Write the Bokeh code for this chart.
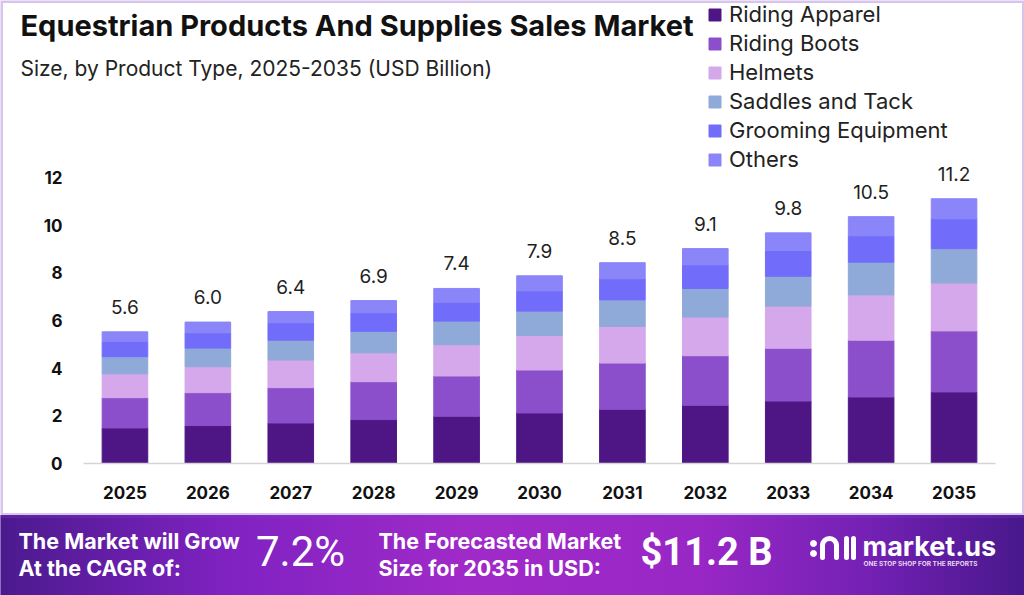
from bokeh.plotting import figure
from bokeh.models import (ColumnDataSource, Range1d, FixedTicker, Label, Legend, BoxAnnotation,
                          LinearAxis)
from bokeh.embed import file_html
from bokeh.resources import INLINE
from bokeh.core.properties import value
import math

# ---------------- data ----------------
years = ["2025", "2026", "2027", "2028", "2029", "2030", "2031", "2032", "2033", "2034", "2035"]
riding_apparel = [1.49, 1.59, 1.70, 1.84, 1.98, 2.12, 2.27, 2.44, 2.62, 2.79, 3.00]
riding_boots = [1.27, 1.38, 1.48, 1.59, 1.69, 1.80, 1.94, 2.08, 2.21, 2.38, 2.56]
helmets = [1.00, 1.09, 1.16, 1.21, 1.31, 1.45, 1.54, 1.62, 1.77, 1.90, 2.01]
saddles_and_tack = [0.72, 0.78, 0.83, 0.90, 0.99, 1.02, 1.11, 1.20, 1.25, 1.37, 1.44]
grooming_equipment = [0.64, 0.64, 0.73, 0.78, 0.79, 0.85, 0.89, 0.99, 1.08, 1.11, 1.25]
others = [0.40, 0.45, 0.47, 0.51, 0.58, 0.63, 0.67, 0.68, 0.74, 0.80, 0.84]
total_labels = ["5.6", "6.0", "6.4", "6.9", "7.4", "7.9", "8.5", "9.1", "9.8", "10.5", "11.2"]
y_ticks = [0, 2, 4, 6, 8, 10, 12]
series_names = ["Riding Apparel", "Riding Boots", "Helmets", "Saddles and Tack",
                "Grooming Equipment", "Others"]
title_text = "Equestrian Products And Supplies Sales Market"
subtitle_text = "Size, by Product Type, 2025-2035 (USD Billion)"
cagr_lines = ["The Market will Grow", "At the CAGR of:"]
cagr_value = "7.2%"
forecast_lines = ["The Forecasted Market", "Size for 2035 in USD:"]
forecast_value = "$11.2 B"
brand = "market.us"
tagline = "ONE STOP SHOP FOR THE REPORTS"

# ---------------- style / geometry ----------------
colors = ["#4e1684", "#8c4fcb", "#d4a8ea", "#8fa9d8", "#726cfb", "#8a85f8"]
FONT = "Inter"
W, H = 1024, 595
CAT_L, CAT_R = 83, 995          # pixel extent of the category band
BASE_PX = 463                   # pixel row of value 0
PX_PER_UNIT = 23.85
BANNER_TOP = 515
CAT_W = (CAT_R - CAT_L) / len(years)


def px2x(px):
    return (px - CAT_L) / CAT_W - 0.5


def py2y(py):
    return (BASE_PX - py) / PX_PER_UNIT


series = [riding_apparel, riding_boots, helmets, saddles_and_tack, grooming_equipment, others]
keys = ["riding_apparel", "riding_boots", "helmets", "saddles_and_tack", "grooming_equipment", "others"]
data = dict(idx=list(range(len(years))), label=total_labels)
for k, s in zip(keys, series):
    data[k] = s
data["total"] = [sum(v) for v in zip(*series)]
source = ColumnDataSource(data)

p = figure(width=W, height=H, x_range=Range1d(px2x(0), px2x(W)), y_range=Range1d(py2y(H), py2y(0)),
           output_backend="svg", toolbar_location=None, min_border=0,
           x_axis_type=None, y_axis_type=None)
p.outline_line_color = None
p.xgrid.visible = False
p.ygrid.visible = False
p.background_fill_color = "white"
p.border_fill_color = "white"

# ---------------- banner (drawn first, behind) ----------------
stops = [(0, (0x4b, 0x1a, 0x8e)), (230, (0x80, 0x22, 0xc2)), (470, (0xa0, 0x2a, 0xc8)),
         (700, (0x98, 0x27, 0xc6)), (860, (0x76, 0x21, 0xb6)), (1024, (0x48, 0x18, 0x8c))]


def grad(xp):
    for (x0, c0), (x1, c1) in zip(stops[:-1], stops[1:]):
        if x0 <= xp <= x1:
            t = (xp - x0) / (x1 - x0)
            return "#%02x%02x%02x" % tuple(int(round(a + (bb - a) * t)) for a, bb in zip(c0, c1))
    return "#48188c"


n = 128
step = W / n
lefts_px = [i * step for i in range(n)]
p.quad(left=[px2x(l) for l in lefts_px], right=[px2x(l + step + 0.7) for l in lefts_px],
       bottom=py2y(H), top=py2y(BANNER_TOP), color=[grad(l + step / 2) for l in lefts_px])

# ---------------- bars ----------------
renderers = p.vbar_stack(keys, x="idx", width=0.55, color=colors, source=source)

p.segment(x0=[-0.5], y0=[0], x1=[len(years) - 0.5], y1=[0], line_color="#d4d4d4", line_width=1.5)

p.text(x="idx", y="total", text="label", source=source, y_offset=-25,
       text_align="center", text_baseline="middle", text_font=value(FONT),
       text_font_size="19px", text_color="#1f1f1f")

# ---------------- axes ----------------
yaxis = LinearAxis(fixed_location=px2x(CAT_L), ticker=FixedTicker(ticks=y_ticks))
yaxis.axis_line_color = None
yaxis.major_tick_line_color = None
yaxis.minor_tick_line_color = None
yaxis.major_tick_out = 0
yaxis.major_tick_in = 0
yaxis.major_label_standoff = 21
yaxis.major_label_text_font = FONT
yaxis.major_label_text_font_style = "bold"
yaxis.major_label_text_font_size = "17px"
yaxis.major_label_text_color = "#111111"
p.add_layout(yaxis, "left")

xaxis = LinearAxis(fixed_location=0, ticker=FixedTicker(ticks=list(range(len(years)))),
                   major_label_overrides={i: y for i, y in enumerate(years)})
xaxis.axis_line_color = None
xaxis.major_tick_line_color = None
xaxis.minor_tick_line_color = None
xaxis.major_tick_out = 0
xaxis.major_tick_in = 0
xaxis.major_label_standoff = 22
xaxis.major_label_text_font = FONT
xaxis.major_label_text_font_style = "bold"
xaxis.major_label_text_font_size = "17px"
xaxis.major_label_text_color = "#111111"
p.add_layout(xaxis, "below")

# ---------------- legend ----------------
legend = Legend(items=[(nm, [r]) for nm, r in zip(series_names, renderers)],
                location=(707, H - 172), padding=0, margin=0, spacing=3,
                glyph_width=15, glyph_height=15, label_height=20, label_standoff=7,
                label_text_font=FONT, label_text_font_size="22px", label_text_color="#222222",
                border_line_color=None, background_fill_alpha=0)
p.add_layout(legend)

# ---------------- titles ----------------
p.add_layout(Label(x=px2x(20), y=py2y(25), text=title_text, text_font=FONT,
                   text_font_style="bold", text_font_size="29px", text_color="#111111",
                   text_baseline="middle", text_align="left"))
p.add_layout(Label(x=px2x(20), y=py2y(68), text=subtitle_text, text_font=FONT,
                   text_font_size="21px", text_color="#222222",
                   text_baseline="middle", text_align="left"))

# purple page border
p.add_layout(BoxAnnotation(left=px2x(0), right=px2x(W), top=py2y(0), bottom=py2y(BANNER_TOP),
                           fill_alpha=0, line_color="#7d3cc2", line_width=5))

# ---------------- banner texts ----------------
p.text(x=[px2x(18)] * 2, y=[py2y(540), py2y(567)], text=cagr_lines, text_font=value(FONT),
       text_font_style="bold", text_font_size="21.5px", text_color="white", text_baseline="middle")
p.text(x=[px2x(300)], y=[py2y(551)], text=[cagr_value], text_font=value("Roboto"),
       text_font_size="42px", text_color="white", text_baseline="middle", text_align="center")
p.text(x=[px2x(378)] * 2, y=[py2y(540), py2y(567)], text=forecast_lines, text_font=value(FONT),
       text_font_style="bold", text_font_size="21.5px", text_color="white", text_baseline="middle")
p.text(x=[px2x(706)], y=[py2y(551)], text=[forecast_value], text_font=value("Roboto"),
       text_font_style="bold", text_font_size="38px", text_color="white", text_baseline="middle",
       text_align="center")

# logo
p.scatter(x=[px2x(813)] * 2, y=[py2y(543), py2y(553)], size=6, color="white")
p.arc(x=[px2x(829)], y=[py2y(545)], radius=7, radius_units="screen", start_angle=0,
      end_angle=math.pi, line_width=5, color="white")
p.segment(x0=[px2x(v) for v in (822, 836, 846, 853)], y0=[py2y(545)] * 2 + [py2y(538)] * 2,
          x1=[px2x(v) for v in (822, 836, 846, 853)], y1=[py2y(557)] * 4,
          line_width=5, color="white", line_cap="round")
p.text(x=[px2x(862)], y=[py2y(546)], text=[brand], text_font=value(FONT), text_font_style="bold",
       text_font_size="27px", text_color="white", text_baseline="middle")
p.text(x=[px2x(863)], y=[py2y(563)], text=[tagline], text_font=value(FONT),
       text_font_style="bold", text_font_size="6.5px", text_color="#e6d6f5",
       text_baseline="middle")

open("out.html", "w").write(file_html(p, INLINE))
